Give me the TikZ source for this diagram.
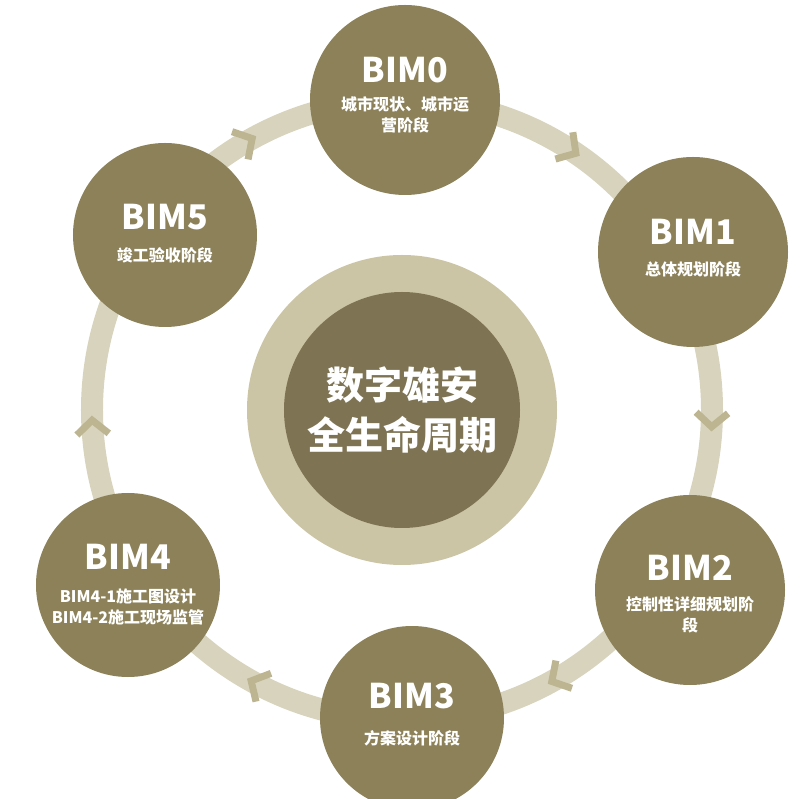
\documentclass[tikz,border=0pt]{standalone}
\usepackage{fontspec}
\newfontfamily\cjk{Noto Sans CJK SC}
\definecolor{olive}{HTML}{8C8158}
\definecolor{ringc}{HTML}{D8D3BD}
\definecolor{chev}{HTML}{BDB591}
\definecolor{hubin}{HTML}{7E7453}
\definecolor{hubout}{HTML}{CBC5A6}
\tikzset{
    stage/.style={circle,fill=olive,minimum size=#1,text=white,align=center,inner sep=0pt},
    ttl/.style={text=white,font=\cjk\bfseries\fontsize{34}{40}\selectfont},
    sub/.style={text=white,font=\cjk\bfseries\fontsize{16}{21}\selectfont}
}
\newcommand{\chevr}[1]{%
    \draw [chev,line width=7pt,line join=miter,rotate around={#1-90:(#1:310)}]
        ($(#1:310)+(-8,16)$) -- ($(#1:310)+(6,0)$) -- ($(#1:310)+(-8,-16)$);}
\usetikzlibrary{calc}
\begin{document}
\begin{tikzpicture}[x=1pt,y=1pt]
    \useasboundingbox [fill=white] (-402,-389) rectangle (400,410);
    % Ring and arrows
    \draw [ringc,line width=22pt] (0,0) circle (310);
    \foreach \a in {120,57,-2,-60,-118,183} {\chevr{\a}}
    % Hub
    \node (hub) [circle,fill=hubout,minimum size=310pt] at (0,0) {};
    \node (hubtext) [circle,fill=hubin,minimum size=236pt,text=white,align=center,
        font=\cjk\bfseries\fontsize{38}{50}\selectfont] at (0,0) {数字雄安\\全生命周期};
    % Stages
    \node (bim0) [stage=190pt] at (3,310) {};
    \node [ttl] at ($(bim0)+(0,30)$) {BIM0};
    \node [sub,align=center] at ($(bim0)+(0,-15)$) {城市现状、城市运\\营阶段};
    \node (bim1) [stage=190pt] at (291,158) {};
    \node [ttl] at ($(bim1)+(0,20)$) {BIM1};
    \node [sub] at ($(bim1)+(0,-17)$) {总体规划阶段};
    \node (bim2) [stage=190pt] at (288,-180) {};
    \node [ttl] at ($(bim2)+(0,22)$) {BIM2};
    \node [sub,align=center] at ($(bim2)+(0,-25)$) {控制性详细规划阶\\段};
    \node (bim3) [stage=184pt] at (10,-308) {};
    \node [ttl] at ($(bim3)+(0,22)$) {BIM3};
    \node [sub] at ($(bim3)+(0,-20)$) {方案设计阶段};
    \node (bim4) [stage=184pt] at (-274,-175) {};
    \node [ttl] at ($(bim4)+(0,28)$) {BIM4};
    \node [sub,align=center] at ($(bim4)+(0,-22)$) {BIM4-1施工图设计\\BIM4-2施工现场监管};
    \node (bim5) [stage=184pt] at (-237,175) {};
    \node [ttl] at ($(bim5)+(0,18)$) {BIM5};
    \node [sub] at ($(bim5)+(0,-20)$) {竣工验收阶段};
\end{tikzpicture}
\end{document}
